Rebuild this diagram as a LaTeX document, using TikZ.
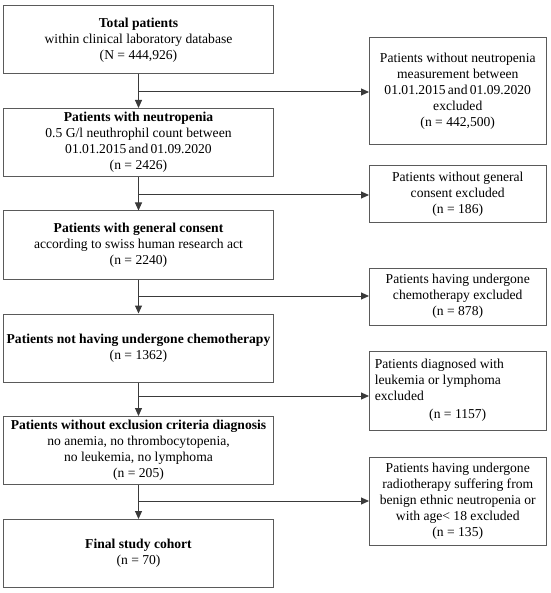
\documentclass[tikz,border=0pt]{standalone}
\usepackage{fontspec}
\setmainfont{Liberation Serif}
\usetikzlibrary{arrows.meta}
\definecolor{boxgray}{HTML}{5A5A5A}
\definecolor{arrgray}{HTML}{3A3A3A}
\begin{document}
\begin{tikzpicture}[x=1pt,y=-1pt,
  box/.style={draw=boxgray, line width=1pt, align=center, inner sep=0pt,
    font=\fontsize{13.6}{16}\selectfont},
  lbox/.style={box, minimum width=270pt, minimum height=68pt},
  rbox/.style={box, minimum width=176.5pt},
  arr/.style={draw=arrgray, line width=1pt, -{Triangle[length=8pt,width=7pt]}}]
\useasboundingbox (0,0) rectangle (550,593);
% left column
\node[lbox] (L1) at (138.5,40) {\textbf{Total patients}\\ within clinical laboratory database\\ (N = 444,926)};
\node[lbox] (L2) at (138.5,142.5) {\textbf{Patients with neutropenia}\\ 0.5 G/l neuthrophil count between\\ 01.01.2015\,and\,01.09.2020\\ (n = 2426)};
\node[lbox] (L3) at (138.5,245) {\textbf{Patients with general consent}\\ according to swiss human research act\\ (n = 2240)};
\node[lbox] (L4) at (138.5,348) {\textbf{Patients not having undergone chemotherapy}\\ (n = 1362)};
\node[lbox] (L5) at (138.5,450.5) {\textbf{Patients without exclusion criteria diagnosis}\\ no anemia, no thrombocytopenia,\\ no leukemia, no lymphoma\\ (n = 205)};
\node[lbox] (L6) at (138.5,553.5) {\textbf{Final study cohort}\\ (n = 70)};
% right column
\node[rbox, minimum height=107pt] (R1) at (457.75,91.5) {Patients without neutropenia\\ measurement between\\ 01.01.2015\,and\,01.09.2020\\ excluded\\ (n = 442,500)};
\node[rbox, minimum height=57pt] (R2) at (457.75,194.5) {Patients without general\\ consent excluded\\ (n = 186)};
\node[rbox, minimum height=57pt] (R3) at (457.75,296.5) {Patients having undergone\\ chemotherapy excluded\\ (n = 878)};
\node[rbox, minimum height=79pt] (R4) at (457.75,390.5) {\begin{minipage}{166pt}\raggedright Patients diagnosed with\\ leukemia or lymphoma\\ excluded\par\vspace{2pt}\centering (n = 1157)\end{minipage}};
\node[rbox, minimum height=88pt] (R5) at (457.75,501) {Patients having undergone\\ radiotherapy suffering from\\ benign ethnic neutropenia or\\ with age< 18 excluded\\ (n = 135)};
% branch points
\coordinate (b1) at (139,92);
\coordinate (b2) at (139,195);
\coordinate (b3) at (139,296);
\coordinate (b4) at (139,396);
\coordinate (b5) at (139,501);
% connectors
\draw[arr] (L1.south) -- (L2.north);
\draw[arr] (L2.south) -- (L3.north);
\draw[arr] (L3.south) -- (L4.north);
\draw[arr] (L4.south) -- (L5.north);
\draw[arr] (L5.south) -- (L6.north);
\draw[arr] (b1) -- (b1 -| R1.west);
\draw[arr] (b2) -- (b2 -| R2.west);
\draw[arr] (b3) -- (b3 -| R3.west);
\draw[arr] (b4) -- (b4 -| R4.west);
\draw[arr] (b5) -- (b5 -| R5.west);
\end{tikzpicture}
\end{document}
